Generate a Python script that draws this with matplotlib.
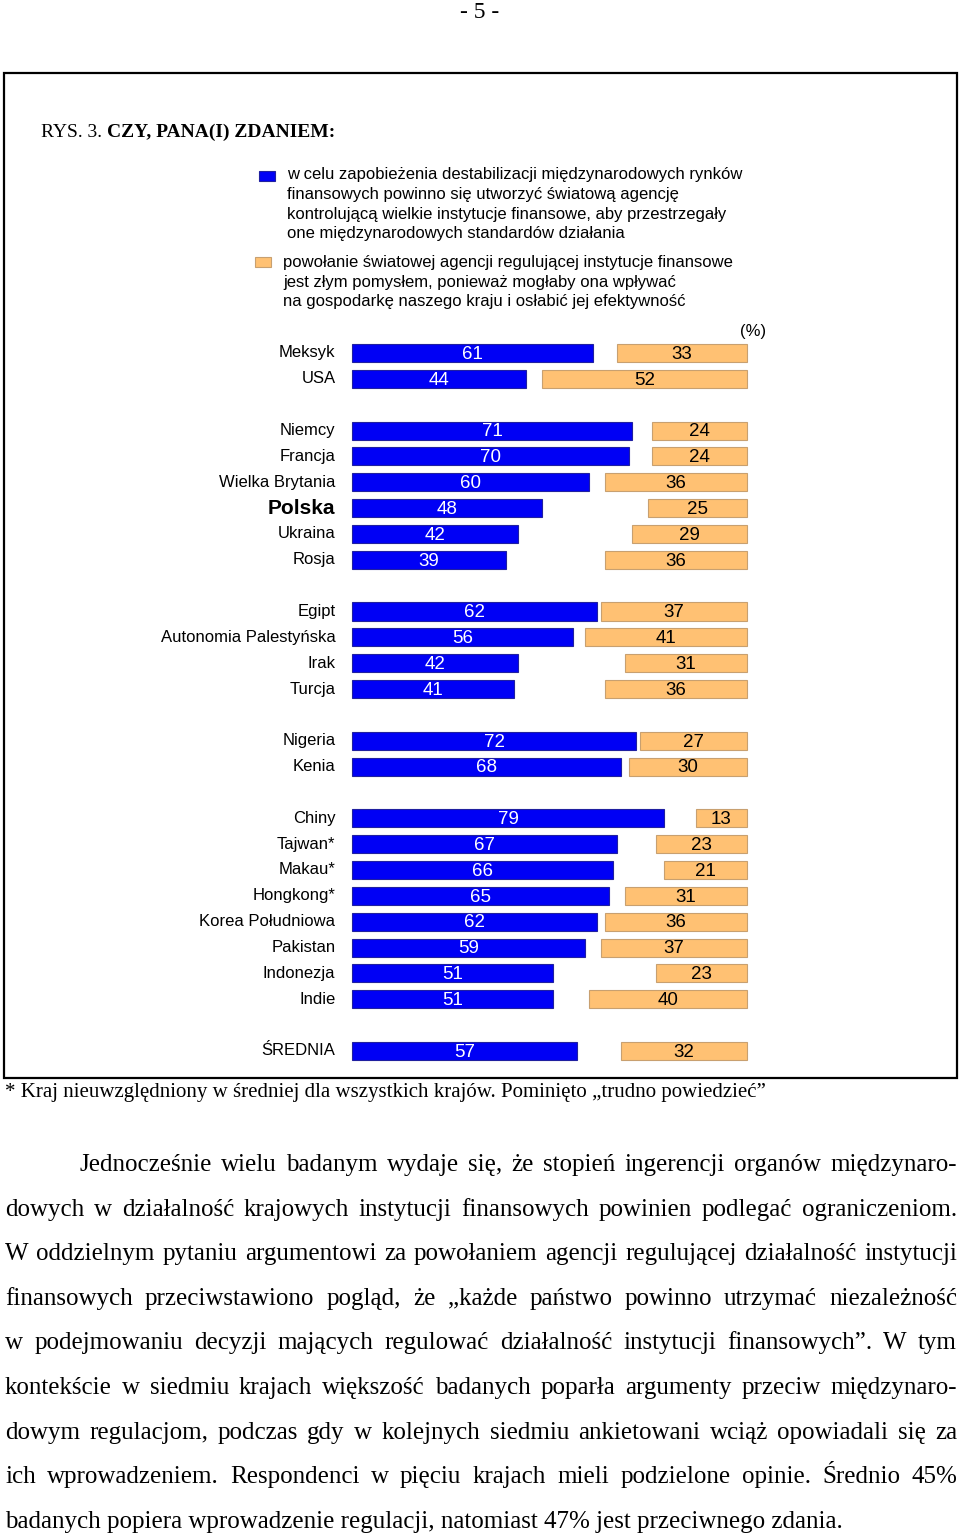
import numpy as np
import matplotlib
matplotlib.use('Agg')
import matplotlib.pyplot as plt
from matplotlib.patches import Rectangle

# dane z wykresu (%)
kraje = ['Meksyk', 'USA',
         'Niemcy', 'Francja', 'Wielka Brytania', 'Polska', 'Ukraina', 'Rosja',
         'Egipt', 'Autonomia Palestyńska', 'Irak', 'Turcja',
         'Nigeria', 'Kenia',
         'Chiny', 'Tajwan*', 'Makau*', 'Hongkong*', 'Korea Południowa', 'Pakistan', 'Indonezja', 'Indie',
         'ŚREDNIA']
za = [61, 44, 71, 70, 60, 48, 42, 39, 62, 56, 42, 41, 72, 68, 79, 67, 66, 65, 62, 59, 51, 51, 57]
przeciw = [33, 52, 24, 24, 36, 25, 29, 36, 37, 41, 31, 36, 27, 30, 13, 23, 21, 31, 36, 37, 23, 40, 32]
grupy = [2, 6, 4, 2, 8, 1]  # liczba krajow w grupach

legenda_za = ['w celu zapobieżenia destabilizacji międzynarodowych rynków',
              'finansowych powinno się utworzyć światową agencję',
              'kontrolującą wielkie instytucje finansowe, aby przestrzegały',
              'one międzynarodowych standardów działania']
legenda_przeciw = ['powołanie światowej agencji regulującej instytucje finansowe',
                   'jest złym pomysłem, ponieważ mogłaby ona wpływać',
                   'na gospodarkę naszego kraju i osłabić jej efektywność']

tekst = ['Jednocześnie wielu badanym wydaje się, że stopień ingerencji organów międzynaro-',
         'dowych w działalność krajowych instytucji finansowych powinien podlegać ograniczeniom.',
         'W oddzielnym pytaniu argumentowi za powołaniem agencji regulującej działalność instytucji',
         'finansowych przeciwstawiono pogląd, że „każde państwo powinno utrzymać niezależność',
         'w podejmowaniu decyzji mających regulować działalność instytucji finansowych”. W tym',
         'kontekście w siedmiu krajach większość badanych poparła argumenty przeciw międzynaro-',
         'dowym regulacjom, podczas gdy w kolejnych siedmiu ankietowani wciąż opowiadali się za',
         'ich wprowadzeniem. Respondenci w pięciu krajach mieli podzielone opinie. Średnio 45%',
         'badanych popiera wprowadzenie regulacji, natomiast 47% jest przeciwnego zdania.']

SANS = 'Liberation Sans'
SERIF = 'Liberation Serif'
NIEBIESKI = '#0000F5'
POMARANCZ = '#FFC173'

# pozycje wierszy (puste miejsce miedzy grupami)
pos = []
s = 0
for g in grupy:
    for i in range(g):
        pos.append(s)
        s += 1
    s += 1
pos = np.array(pos)

fig = plt.figure(figsize=(9.6, 15.37), dpi=100)

# warstwa strony (wspolrzedne w pikselach)
page = fig.add_axes([0, 0, 1, 1])
page.set_xlim(0, 960)
page.set_ylim(1537, 0)
page.axis('off')

# wykres slupkowy
ax = fig.add_axes([0, 0, 1, 1])
ax.patch.set_visible(False)
skala = 3.95
x0 = 352
ax.set_xlim(-x0 / skala, (960 - x0) / skala)
krok = 25.85
y0 = 353
ax.set_ylim((1537 - y0) / krok, -y0 / krok)
ax.axis('off')

ax.barh(pos, za, height=0.7, color=NIEBIESKI, edgecolor='#2020A0', linewidth=0.8)
ax.barh(pos, przeciw, left=100 - np.array(przeciw), height=0.7, color=POMARANCZ,
        edgecolor='#C8A070', linewidth=0.8)

for p, k, a, b in zip(pos, kraje, za, przeciw):
    if k == 'Polska':
        ax.text(-4.2, p, k, ha='right', va='center', fontsize=15, fontweight='bold', family=SANS)
    else:
        ax.text(-4.2, p, k, ha='right', va='center', fontsize=12, family=SANS)
    ax.text(a / 2, p + 0.05, str(a), ha='center', va='center', fontsize=13.5, color='white', family=SANS)
    ax.text(100 - b / 2, p + 0.05, str(b), ha='center', va='center', fontsize=13.5, color='black', family=SANS)

ax.text(98.3, -0.82, '(%)', ha='left', va='center', fontsize=12, family=SANS)

# ramka i naglowki
page.add_patch(Rectangle((4, 73), 953, 1005, fill=False, edgecolor='black', linewidth=1.6))
page.text(480, 12, '- 5 -', ha='center', va='center', fontsize=17, family=SERIF)

renderer = fig.canvas.get_renderer()
t1 = page.text(41, 137, 'RYS. 3. ', ha='left', va='baseline', fontsize=14, family=SERIF)
w1 = t1.get_window_extent(renderer).width
page.text(41 + w1, 137, 'CZY, PANA(I) ZDANIEM:', ha='left', va='baseline', fontsize=14,
          fontweight='bold', family=SERIF)

# legenda
page.add_patch(Rectangle((259, 171), 16, 10, facecolor=NIEBIESKI, edgecolor='#2020A0', linewidth=0.8))
for i, l in enumerate(legenda_za):
    page.text(287, 175 + 19.5 * i, l, ha='left', va='center', fontsize=12, family=SANS)
page.add_patch(Rectangle((255, 257), 16, 10, facecolor=POMARANCZ, edgecolor='#C8A070', linewidth=0.8))
for i, l in enumerate(legenda_przeciw):
    page.text(283, 263 + 19.3 * i, l, ha='left', va='center', fontsize=12, family=SANS)

# przypis
page.text(5, 1092, '* Kraj nieuwzględniony w średniej dla wszystkich krajów. Pominięto „trudno powiedzieć”',
          ha='left', va='center', fontsize=15, family=SERIF)


# akapit wyjustowany
def linia(txt, xl, xr, y, justuj):
    if not justuj:
        page.text(xl, y, txt, ha='left', va='baseline', fontsize=18, family=SERIF)
        return
    slowa = txt.split(' ')
    teksty = [page.text(0, y, w, ha='left', va='baseline', fontsize=18, family=SERIF) for w in slowa]
    szer = [t.get_window_extent(renderer).width for t in teksty]
    odstep = (xr - xl - sum(szer)) / (len(slowa) - 1)
    x = xl
    for t, w in zip(teksty, szer):
        t.set_x(x)
        x += w + odstep


for i, l in enumerate(tekst):
    xl = 79 if i == 0 else 5
    linia(l, xl, 957, 1171 + 44.6 * i, i < len(tekst) - 1)

fig.savefig('out.png', dpi=100)
